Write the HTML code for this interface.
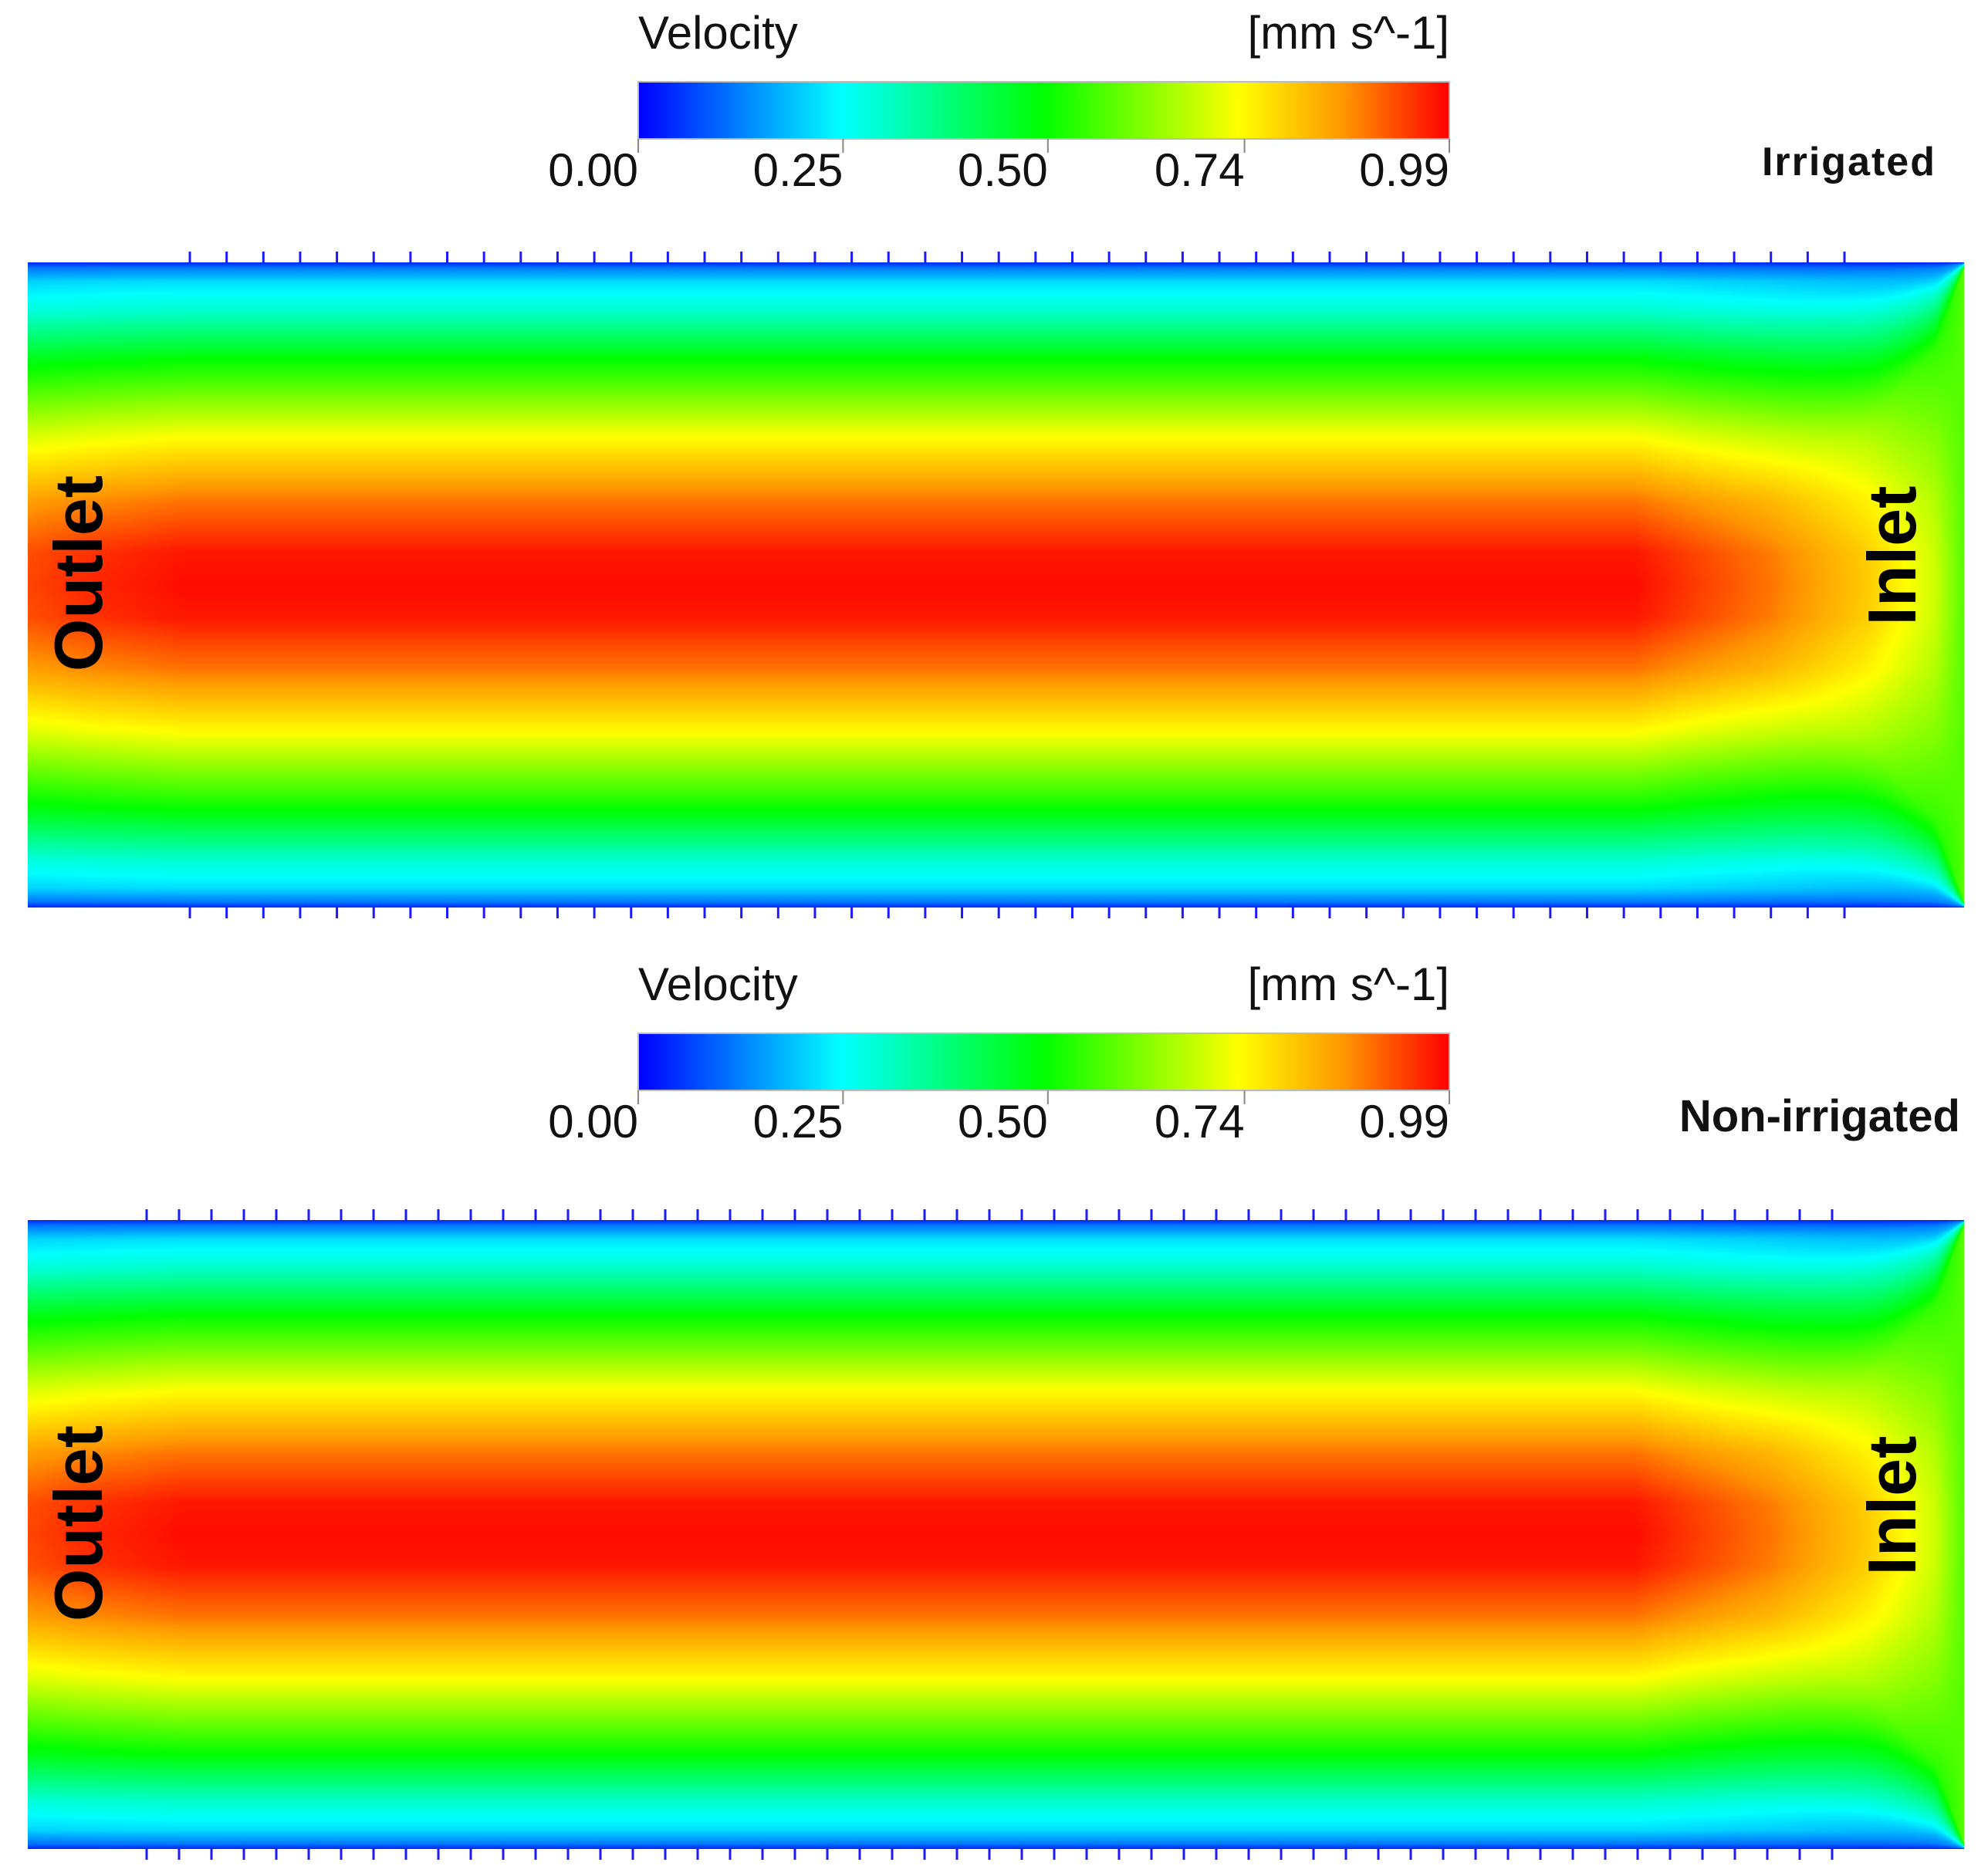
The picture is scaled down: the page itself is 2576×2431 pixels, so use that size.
<!DOCTYPE html>
<html><head><meta charset="utf-8">
<style>
html,body{margin:0;padding:0;background:#fff;}
#root{position:relative;width:2576px;height:2431px;overflow:hidden;font-family:"Liberation Sans",Arial,sans-serif;}
.t{position:absolute;white-space:nowrap;color:#111;}
canvas{position:absolute;}
</style></head>
<body>
<div id="root">
<svg id="svg" width="2576" height="2431" style="position:absolute;left:0;top:0"></svg>
</div>
<script>
// ---- data ----
const tickValues = [0.00, 0.25, 0.50, 0.74, 0.99];
const tickLabels = ["0.00","0.25","0.50","0.74","0.99"];
const cmapPos = [0, 0.25, 0.5, 0.74, 0.87, 1.0];
const cmapCol = [[0,0,255],[0,255,255],[0,255,0],[255,255,0],[255,150,0],[255,0,0]];
// fully developed velocity profile (fraction of channel width from wall -> value)
const profileT = [0, 0.008, 0.03, 0.075, 0.15, 0.27, 0.37, 0.45, 0.5];
const profileV = [0.04, 0.12, 0.22, 0.30, 0.50, 0.74, 0.90, 0.98, 0.99];
// development along channel (fraction of length from outlet -> developed weight)
const devX = [0, 0.03, 0.08, 0.83, 0.90, 0.95, 0.985, 1.0];
const devW = [0.88, 0.94, 1.0, 1.0, 0.78, 0.55, 0.28, 0.0];
const inletVelocity = 0.58;
const panels = [
  {name:"irrigated", label:"Irrigated", x0:36, x1:2545, y0:340, y1:1176, barY:106, ticks:[246,2390]},
  {name:"non-irrigated", label:"Non-irrigated", x0:36, x1:2545, y0:1581, y1:2396, barY:1339, ticks:[190,2374]}
];

function interp(xs, ys, x){
  if(x<=xs[0]) return ys[0];
  for(let i=1;i<xs.length;i++){ if(x<=xs[i]){const f=(x-xs[i-1])/(xs[i]-xs[i-1]);return ys[i-1]+f*(ys[i]-ys[i-1]);} }
  return ys[ys.length-1];
}
function cmap(v){
  v=Math.max(0,Math.min(1,v));
  for(let i=1;i<cmapPos.length;i++){ if(v<=cmapPos[i]){const f=(v-cmapPos[i-1])/(cmapPos[i]-cmapPos[i-1]);
    return cmapCol[i-1].map((c,k)=>Math.round(c+f*(cmapCol[i][k]-c)));} }
  return cmapCol[cmapCol.length-1];
}
const NS="http://www.w3.org/2000/svg";
const svg=document.getElementById('svg');
const root=document.getElementById('root');
function sv(tag,attrs){const e=document.createElementNS(NS,tag);for(const k in attrs)e.setAttribute(k,attrs[k]);svg.appendChild(e);return e;}
function txt(s,left,top,size,weight,name,extra){
  const d=document.createElement('div');d.className='t';d.textContent=s;
  d.style.left=left+'px';d.style.top=top+'px';d.style.fontSize=size+'px';d.style.fontWeight=weight;
  if(extra)Object.assign(d.style,extra);
  
  
  root.appendChild(d);return d;
}
const barX0=827, barX1=1878, barH=74;
function xBar(v){return barX0+(v/tickValues[tickValues.length-1])*(barX1-barX0);}

panels.forEach((p,pi)=>{
  const gid='g'+pi;
  const defs=sv('defs',{});
  const lg=document.createElementNS(NS,'linearGradient');lg.setAttribute('id',gid);
  defs.appendChild(lg);
  cmapPos.forEach((pos,i)=>{const st=document.createElementNS(NS,'stop');st.setAttribute('offset',pos);st.setAttribute('stop-color','rgb('+cmapCol[i].join(',')+')');lg.appendChild(st);});
  const bar=sv('rect',{x:barX0,y:p.barY,width:barX1-barX0,height:barH,fill:'url(#'+gid+')',stroke:'#bbb','stroke-width':2});
  
  
  tickValues.forEach((v,i)=>{
    const x=xBar(v);
    const l=sv('line',{x1:x,x2:x,y1:p.barY+barH,y2:p.barY+barH+18,stroke:'#888','stroke-width':2});
    
    
    txt(tickLabels[i], x-160, p.barY+barH+8, 60, 'normal', p.name+'-tick-label', {width:'160px',textAlign:'right',lineHeight:'66px'});
  });
  txt('Velocity', barX0, p.barY-96, 60, 'normal', p.name+'-colorbar-title', {lineHeight:'66px'});
  txt('[mm s^-1]', barX1-400, p.barY-96, 60, 'normal', p.name+'-colorbar-unit', {width:'400px',textAlign:'right',lineHeight:'66px'});
  if(pi===0) txt(p.label, 2509-300, 180, 52, 'bold', 'irrigated-title', {width:'300px',textAlign:'right',lineHeight:'60px',letterSpacing:'2px'});
  else txt(p.label, 2540-450, 1415, 58, 'bold', 'non-irrigated-title', {width:'450px',textAlign:'right',lineHeight:'64px'});

  const W=p.x1-p.x0, H=p.y1-p.y0;
  const c=document.createElement('canvas');c.width=W;c.height=H;c.style.left=p.x0+'px';c.style.top=p.y0+'px';
  
  
  root.appendChild(c);
  const ctx=c.getContext('2d');const img=ctx.createImageData(W,H);const d=img.data;
  for(let x=0;x<W;x++){
    const fx=x/(W-1);const w=interp(devX,devW,fx);
    const s=0.02+0.98*w;
    for(let y=0;y<H;y++){
      const t=Math.min(y,H-1-y)/(H-1);
      const pd=interp(profileT,profileV,t);
      const pc=interp(profileT,profileV,Math.min(0.5,t/s))/0.99;
      let v=w*pd+(1-w)*inletVelocity*pc;
      const col=cmap(v);const k=(y*W+x)*4;
      d[k]=col[0];d[k+1]=col[1];d[k+2]=col[2];d[k+3]=255;
    }
  }
  ctx.putImageData(img,0,0);
  const n=pi===0?46:53;
  const [ta,tb]=p.ticks;
  for(let i=0;i<n;i++){
    const x=ta+(tb-ta)*i/(n-1);
    const a=sv('line',{x1:x,x2:x,y1:p.y0-14,y2:p.y0,stroke:'#1a1aff','stroke-width':3});
    
    
    const b=sv('line',{x1:x,x2:x,y1:p.y1,y2:p.y1+14,stroke:'#1a1aff','stroke-width':3});
    
    
  }
  const cy=(p.y0+p.y1)/2;
  txt('Outlet', 102-200, cy-15-45, 88, 'bold', p.name+'-outlet-label', {width:'400px',textAlign:'center',lineHeight:'90px',transform:'rotate(-90deg)',zIndex:2,color:'#000'});
  txt('Inlet', 2452-200, cy-38-45, 88, 'bold', p.name+'-inlet-label', {width:'400px',textAlign:'center',lineHeight:'90px',transform:'rotate(-90deg)',zIndex:2,color:'#000'});
});
svg.style.zIndex=1;
</script>
</body></html>
